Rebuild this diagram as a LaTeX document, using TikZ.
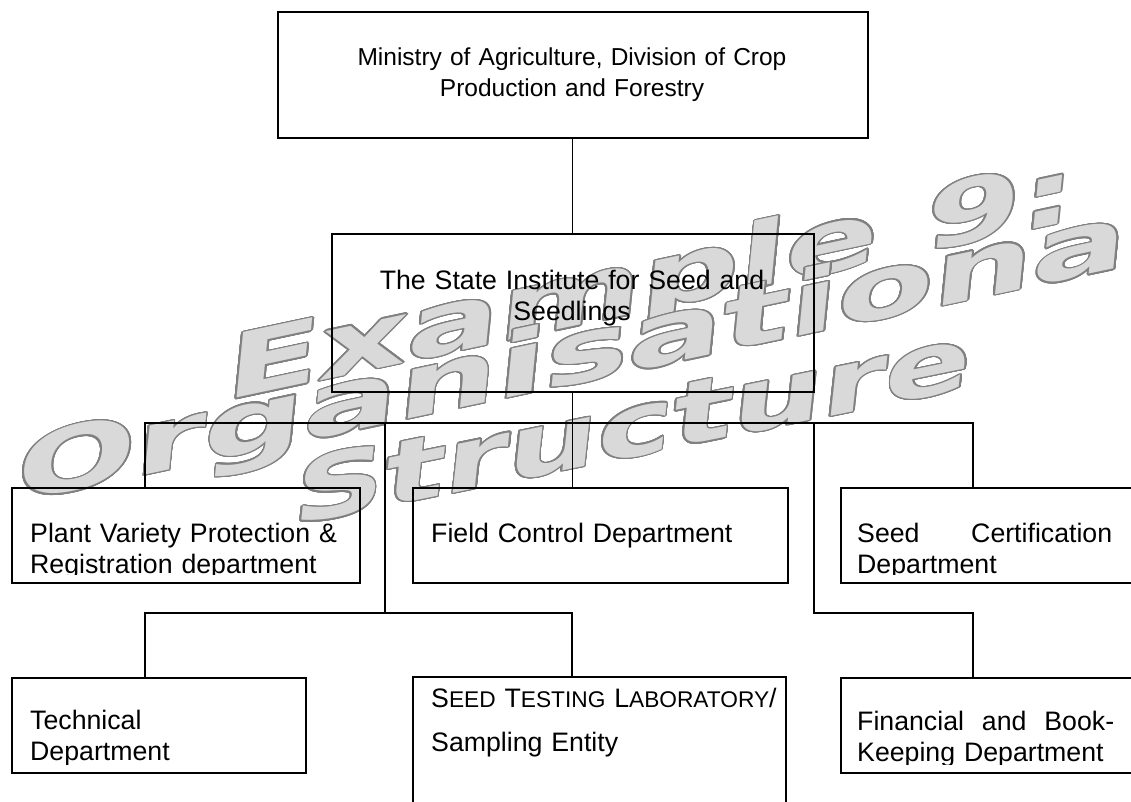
\documentclass[tikz,border=0pt]{standalone}
\usepackage{fontspec}
\setmainfont{Liberation Sans}
\newfontfamily\wmfont{DejaVu Sans}
\usepackage[copies]{contour}
\contourlength{1.1pt}
\contournumber{32}
\definecolor{wmfill}{gray}{0.85}
\definecolor{wmedge}{gray}{0.5}
% outlined light-grey lettering for the background inscription
\newcommand\wmtext[1]{\textcolor{wmfill}{\contour{wmedge}{#1}}}
% reduced capitals for the small-caps heading
\newcommand\smallcap[1]{{\fontsize{22.7}{31}\selectfont #1}}

\begin{document}
\begin{tikzpicture}[x=1pt, y=-1pt,
  box/.style={draw=black, line width=1.6pt, rectangle, inner sep=0pt, anchor=north west},
  link/.style={draw=black, line width=1.2pt},
  lbl/.style={font=\fontsize{26.7}{31}\selectfont, inner sep=0pt, anchor=base west, align=left},
  ctr/.style={font=\fontsize{26.7}{31}\selectfont, inner sep=0pt, anchor=base, align=center},
  wm/.style={font=\wmfont\fontsize{86}{86}\selectfont\bfseries, inner sep=0pt, anchor=base west},
]
\useasboundingbox (0,0) rectangle (1131,802);
\clip (0,0) rectangle (1131,802);

% background inscription
\node[wm, rotate=12, xslant=0.32, xscale=1.62] (wmA) at (224,401) {\wmtext{Example 9:}};
\node[wm, rotate=12, xslant=0.32, xscale=1.66] (wmB) at (14,503) {\wmtext{Organisational}};
\node[wm, rotate=11.5, xslant=0.32, xscale=1.5] (wmC) at (291,526) {\wmtext{Structure}};

% boxes
\node[box, minimum width=590pt, minimum height=126pt] (top) at (277,11) {};
\node[box, minimum width=482pt, minimum height=158pt] (state) at (331,233) {};
\node[box, minimum width=348pt, minimum height=95pt] (plant) at (11,487) {};
\node[box, minimum width=375pt, minimum height=95pt] (field) at (412,487) {};
\node[box, minimum width=320pt, minimum height=95pt] (cert) at (840,487) {};
\node[box, minimum width=294pt, minimum height=95pt] (tech) at (11,677) {};
\node[box, minimum width=373pt, minimum height=160pt] (stest) at (412,676) {};
\node[box, minimum width=320pt, minimum height=95pt] (fin) at (840,677) {};

% junction points of the connector lines
\coordinate (busL) at (145,423);
\coordinate (busR) at (973,423);
\coordinate (dropA) at (385,423);
\coordinate (dropB) at (814,423);
\coordinate (lowA) at (385,613);
\coordinate (lowB) at (814,613);
\coordinate (lowC) at (572,613);

% connectors
\draw[link] (top.south) -- (state.north);
\draw[link] (state.south) -- (state.south |- field.north);
\draw[link] (busL |- plant.north) -- (busL) -- (busR) -- (busR |- cert.north);
\draw[link] (dropA) -- (lowA);
\draw[link] (dropB) -- (lowB) -| (busR |- fin.north);
\draw[link] (busL |- tech.north) |- (lowC) -- (lowC |- stest.north);

% labels
\node[ctr, text width=560pt, font=\fontsize{24.5}{31}\selectfont] (toptext) at (572,66) {Ministry of Agriculture, Division of Crop\\Production and Forestry};
\node[ctr, text width=470pt] (statetext) at (572,289) {The State Institute for Seed and\\Seedlings};
\begin{scope}
  \clip (plant.north west) rectangle ([yshift=9pt]plant.south east);
  \node[lbl, text width=330pt] (planttext) at (30,542) {Plant Variety Protection \&\\Registration department};
\end{scope}
\node[lbl, text width=340pt] (fieldtext) at (431,542) {Field Control Department};
\begin{scope}
  \clip (cert.north west) rectangle ([yshift=9pt]cert.south east);
  \node[lbl, text width=255pt] (certtext) at (857,542) {Seed\hfill Certification\\Department};
\end{scope}
\begin{scope}
  \clip (tech.north west) rectangle ([yshift=9pt]tech.south east);
  \node[lbl, text width=270pt] (techtext) at (30,729) {Technical\\Department};
\end{scope}
\node[lbl, text width=350pt] (stesttext) at (431,707) {S\smallcap{EED} T\smallcap{ESTING} L\smallcap{ABORATORY}/\\[13pt]Sampling Entity};
\begin{scope}
  \clip (fin.north west) rectangle ([yshift=9pt]fin.south east);
  \node[lbl, text width=257pt] (fintext) at (857,730) {Financial\hfill and\hfill Book-\\Keeping Department};
\end{scope}
\end{tikzpicture}
\end{document}
